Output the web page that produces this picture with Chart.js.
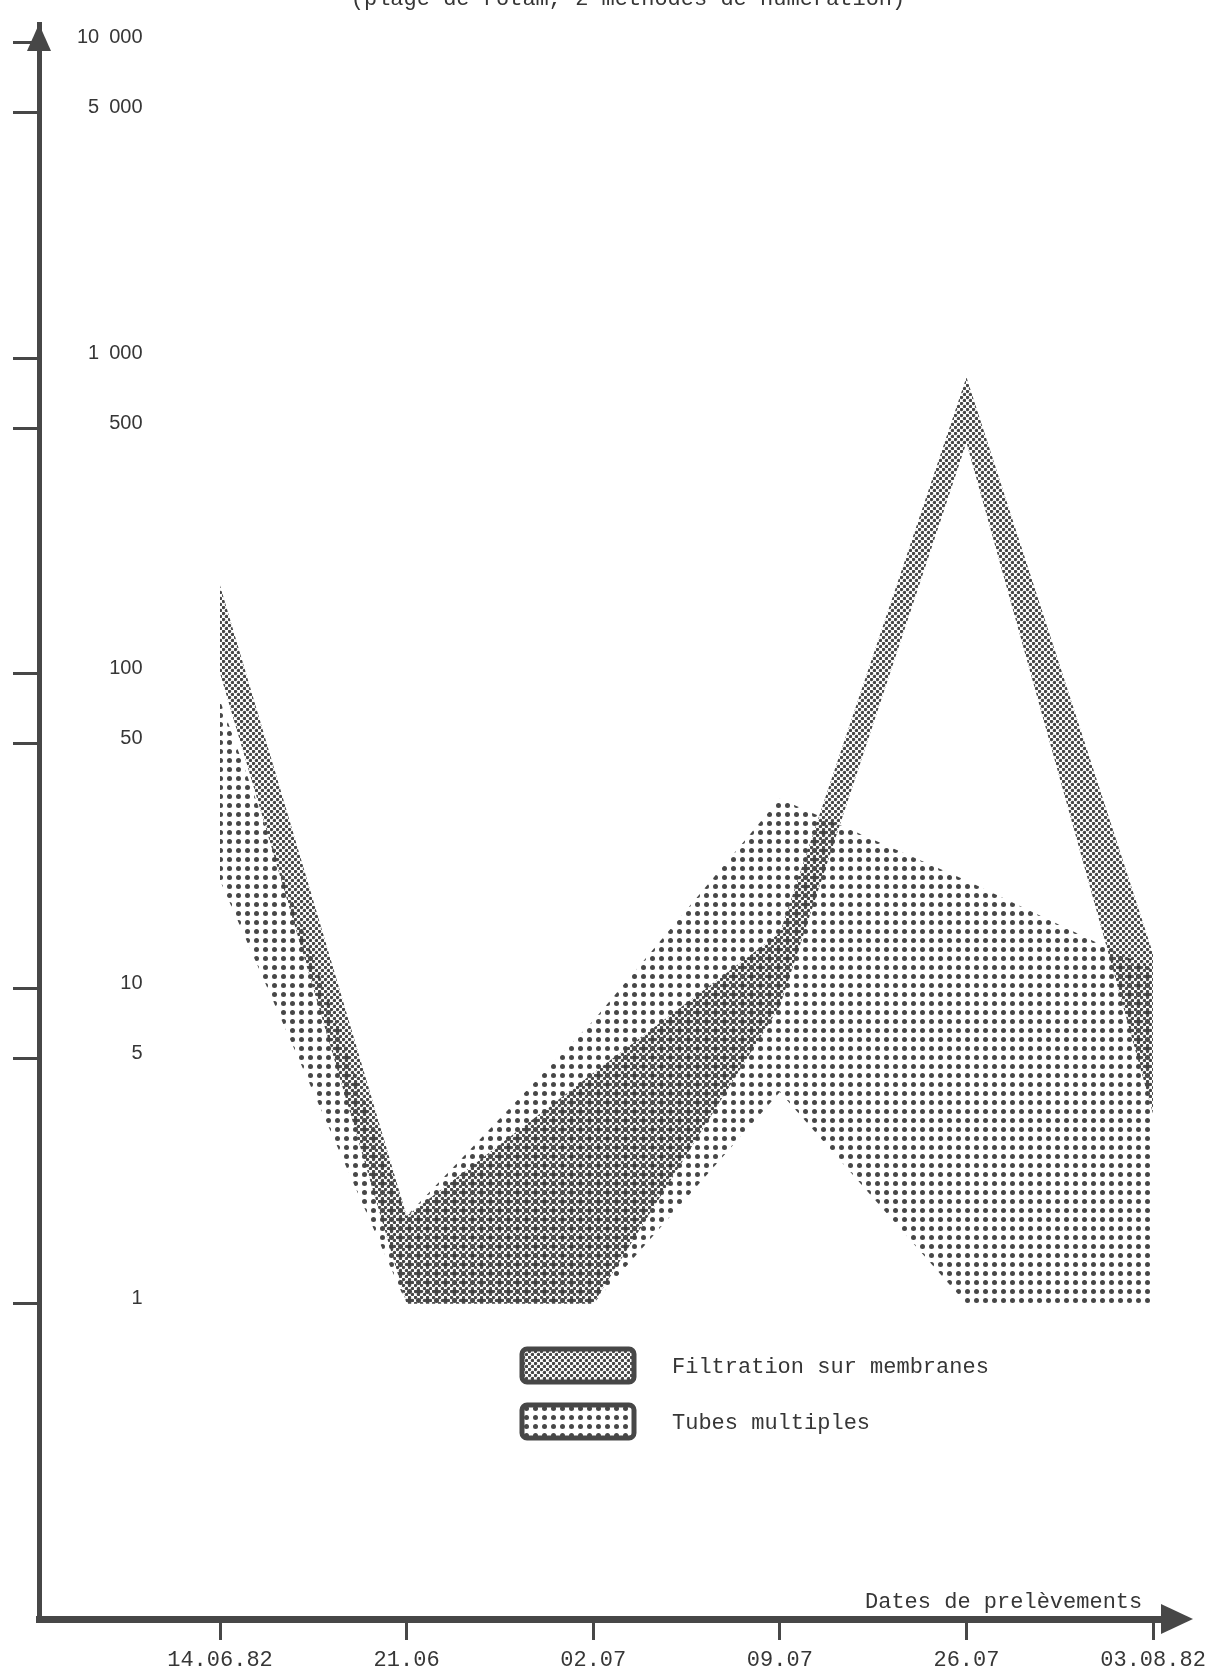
<!DOCTYPE html>
<html lang="fr">
<head>
<meta charset="utf-8">
<title>Numération - 2 méthodes</title>
<script src="https://cdn.jsdelivr.net/npm/chart.js@4.4.1/dist/chart.umd.min.js"></script>
<style>
  html, body { margin: 0; padding: 0; background: #fff; }
  #cadre { position: relative; width: 1206px; height: 1679px; }
</style>
</head>
<body>
<div id="cadre"><canvas id="graphique"></canvas></div>
<script>
// dates de prélèvement
const dates = ['14.06.82', '21.06', '02.07', '09.07', '26.07', '03.08.82'];

// bornes haute / basse de chaque méthode (échelle log)
const filtrationHaut = [190, 1.9, 5.4, 15, 870, 12.9];
const filtrationBas = [100, 1, 1, 8.8, 540, 4.0];
const tubesHaut = [82, 1.9, 7.9, 40, 22, 11.5];
const tubesBas = [22, 1, 1, 4.7, 1, 1];

// les traits "5", "50"... du papier tombent vers 6, 60... sur l'échelle tracée
const graduationsY = [1, 6, 10, 60, 100, 600, 1000, 6000, 10000];
const etiquettesY = ['1', '5', '10', '50', '100', '500', '1\u2002000', '5\u2002000', '10\u2002000'];

const titre = '(plage de rotam, 2 méthodes de numération)';
const titreX = 'Dates de prelèvements';
const legendes = ['Filtration sur membranes', 'Tubes multiples'];

const gris = '#474747';
const texte = '#363636';
const mono = '"Liberation Mono", "DejaVu Sans Mono", monospace';

function creerMotif(pas, rayon, points) {
  const c = document.createElement('canvas');
  c.width = pas;
  c.height = pas;
  const g = c.getContext('2d');
  g.fillStyle = gris;
  points.forEach(([x, y]) => {
    g.beginPath();
    g.arc(x, y, rayon, 0, Math.PI * 2);
    g.fill();
  });
  return g.createPattern(c, 'repeat');
}

const motifFin = creerMotif(6, 1.7, [[1.5, 1.5], [4.5, 4.5]]);
const motifGros = creerMotif(9, 2.5, [[4.5, 4.5]]);

const enPoints = (serie) => serie.map((v, i) => ({ x: i, y: v }));

function bande(valeurs, motif, remplir) {
  return {
    data: enPoints(valeurs),
    backgroundColor: motif,
    borderColor: 'rgba(0,0,0,0)',
    borderWidth: 0,
    pointRadius: 0,
    tension: 0,
    fill: remplir
  };
}

function caseLegende(ctx, x, y, l, h, motif) {
  const r = 5;
  ctx.beginPath();
  ctx.moveTo(x + r, y);
  ctx.arcTo(x + l, y, x + l, y + h, r);
  ctx.arcTo(x + l, y + h, x, y + h, r);
  ctx.arcTo(x, y + h, x, y, r);
  ctx.arcTo(x, y, x + l, y, r);
  ctx.closePath();
  ctx.fillStyle = '#fff';
  ctx.fill();
  ctx.fillStyle = motif;
  ctx.fill();
  ctx.lineWidth = 5;
  ctx.strokeStyle = gris;
  ctx.stroke();
}

// flèches, titre coupé, titre de l'axe x et légende
const decor = {
  id: 'decor',
  afterDraw(chart) {
    const { ctx, chartArea: a } = chart;
    ctx.save();
    ctx.fillStyle = gris;
    ctx.beginPath();
    ctx.moveTo(a.left, a.top);
    ctx.lineTo(a.left - 12, a.top + 27);
    ctx.lineTo(a.left + 12, a.top + 27);
    ctx.closePath();
    ctx.fill();

    ctx.beginPath();
    ctx.moveTo(a.right + 28, a.bottom);
    ctx.lineTo(a.right - 4, a.bottom - 15);
    ctx.lineTo(a.right - 4, a.bottom + 15);
    ctx.closePath();
    ctx.fill();

    ctx.fillStyle = texte;
    ctx.font = '22px ' + mono;
    ctx.textAlign = 'center';
    ctx.textBaseline = 'alphabetic';
    ctx.fillText(titre, 628, 5);

    ctx.textAlign = 'left';
    ctx.textBaseline = 'middle';
    ctx.fillText(titreX, 865, a.bottom - 17);

    caseLegende(ctx, 522, 1349, 112, 33, motifFin);
    caseLegende(ctx, 522, 1405, 112, 33, motifGros);
    ctx.fillStyle = texte;
    ctx.fillText(legendes[0], 672, 1367);
    ctx.fillText(legendes[1], 672, 1423);
    ctx.restore();
  }
};

new Chart(document.getElementById('graphique'), {
  type: 'line',
  data: {
    datasets: [
      bande(filtrationHaut, motifFin, '+1'),
      bande(filtrationBas, motifFin, false),
      bande(tubesHaut, motifGros, '+1'),
      bande(tubesBas, motifGros, false)
    ]
  },
  options: {
    responsive: true,
    maintainAspectRatio: false,
    animation: false,
    devicePixelRatio: 1,
    layout: { padding: { top: 24, left: 13, right: 41, bottom: 6 } },
    plugins: {
      legend: { display: false },
      tooltip: { enabled: false },
      title: { display: false }
    },
    scales: {
      x: {
        type: 'linear',
        position: 'bottom',
        min: -0.97,
        max: 5.064,
        afterBuildTicks: (axe) => { axe.ticks = dates.map((_, i) => ({ value: i })); },
        afterFit: (axe) => {
          axe.height = 54;
          axe.paddingLeft = 0;
          axe.paddingRight = 0;
        },
        ticks: {
          autoSkip: false,
          maxRotation: 0,
          padding: 7,
          color: texte,
          font: { family: mono, size: 22 },
          callback: (v) => dates[v] ?? ''
        },
        grid: { drawOnChartArea: false, tickLength: 21, tickWidth: 3, tickColor: gris },
        border: { width: 7, color: gris }
      },
      y: {
        type: 'logarithmic',
        position: 'left',
        min: 0.1,
        max: 11480,
        afterBuildTicks: (axe) => { axe.ticks = graduationsY.map((v) => ({ value: v })); },
        afterFit: (axe) => {
          axe.width = 26;
          axe.paddingTop = 0;
          axe.paddingBottom = 0;
        },
        ticks: {
          autoSkip: false,
          mirror: true,
          crossAlign: 'far',
          padding: 38,
          labelOffset: -5,
          color: texte,
          font: { family: '"Liberation Sans Narrow", "Liberation Sans", sans-serif', size: 20 },
          callback: (v, i) => etiquettesY[i]
        },
        grid: { drawOnChartArea: false, tickLength: 26, tickWidth: 3, tickColor: gris },
        border: { width: 5, color: gris }
      }
    }
  },
  plugins: [decor]
});
</script>
</body>
</html>
